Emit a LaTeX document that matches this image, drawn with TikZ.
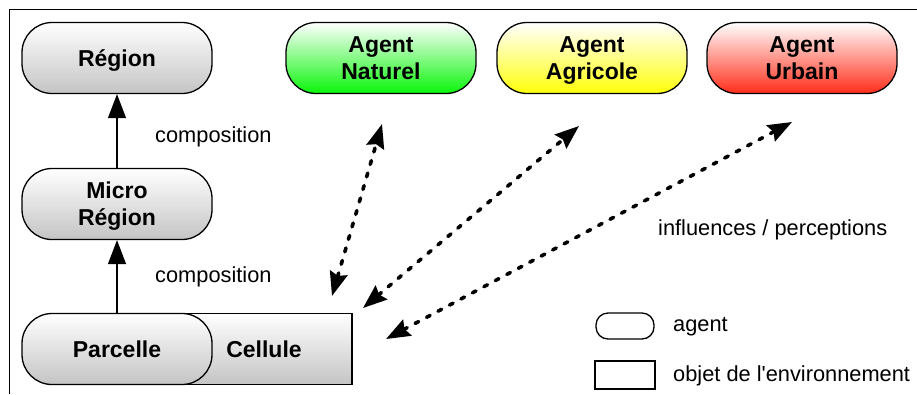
\documentclass[tikz,border=0pt]{standalone}
\usepackage{fontspec}
\setmainfont{Liberation Sans}
\usetikzlibrary{arrows.meta}

\definecolor{grisbas}{RGB}{196,196,196}
\definecolor{vertbas}{RGB}{10,245,10}
\definecolor{jaunebas}{RGB}{255,255,10}
\definecolor{rougebas}{RGB}{255,45,25}

\begin{document}
\begin{tikzpicture}[x=1pt, y=-1pt,
    box/.style={draw, line width=1.3pt, minimum width=190pt, minimum height=71pt, inner sep=0pt, text depth=0pt, align=center, font=\bfseries\fontsize{23}{27}\selectfont},
    agentbox/.style={box, rounded corners=30pt, top color=white},
    lab/.style={anchor=west, inner sep=0pt, font=\fontsize{21.8}{26}\selectfont},
    comp/.style={line width=1.3pt, -{Triangle[length=24pt,width=18pt]}},
    infl/.style={line width=3.6pt, line cap=round, dash pattern=on 4pt off 9pt, {Stealth[length=24pt,width=18pt,inset=3pt]}-{Stealth[length=24pt,width=18pt,inset=3pt]}}]

\useasboundingbox (0,0) rectangle (917,394);

% Frame
    \draw[line width=1.3pt] (917,9.5) -- (9.5,9.5) -- (9.5,394);

% Hierarchy of objects
    \node[agentbox, bottom color=grisbas] (region) at (117,58) {Région};
    \node[agentbox, bottom color=grisbas] (micro) at (117,204) {Micro\\Région};
    \node[box, minimum width=176pt, top color=white, bottom color=grisbas] (cellule) at (264,349) {Cellule};
    \node[agentbox, bottom color=grisbas] (parcelle) at (117,349) {Parcelle};

    \draw[comp] (micro) -- (region);
    \draw[comp] (parcelle) -- (micro);
    \node[lab] (comp1) at (155,137) {composition};
    \node[lab] (comp2) at (155,277) {composition};

% Agents
    \node[agentbox, bottom color=vertbas] (naturel) at (381,58) {Agent\\Naturel};
    \node[agentbox, bottom color=jaunebas] (agricole) at (592,58) {Agent\\Agricole};
    \node[agentbox, bottom color=rougebas] (urbain) at (802,58) {Agent\\Urbain};

% Influences / perceptions
    \coordinate (natA) at (382,124);
    \coordinate (natB) at (332,296);
    \coordinate (agrA) at (579,126);
    \coordinate (agrB) at (363,308);
    \coordinate (urbA) at (792,122);
    \coordinate (urbB) at (386,339);
    \draw[infl] (natB) -- (natA);
    \draw[infl] (agrB) -- (agrA);
    \draw[infl] (urbB) -- (urbA);
    \node[lab] (infllab) at (658,230) {influences / perceptions};

% Legend
    \node[draw, line width=1.3pt, rounded corners=12pt, minimum width=58pt, minimum height=26pt] (legagent) at (625,326) {};
    \node[lab] (legagenttxt) at (673,327) {agent};
    \node[draw, line width=1.3pt, minimum width=60pt, minimum height=28pt] (legobjet) at (625,375) {};
    \node[lab] (legobjettxt) at (673,376) {objet de l\textquotesingle environnement};
\end{tikzpicture}
\end{document}
